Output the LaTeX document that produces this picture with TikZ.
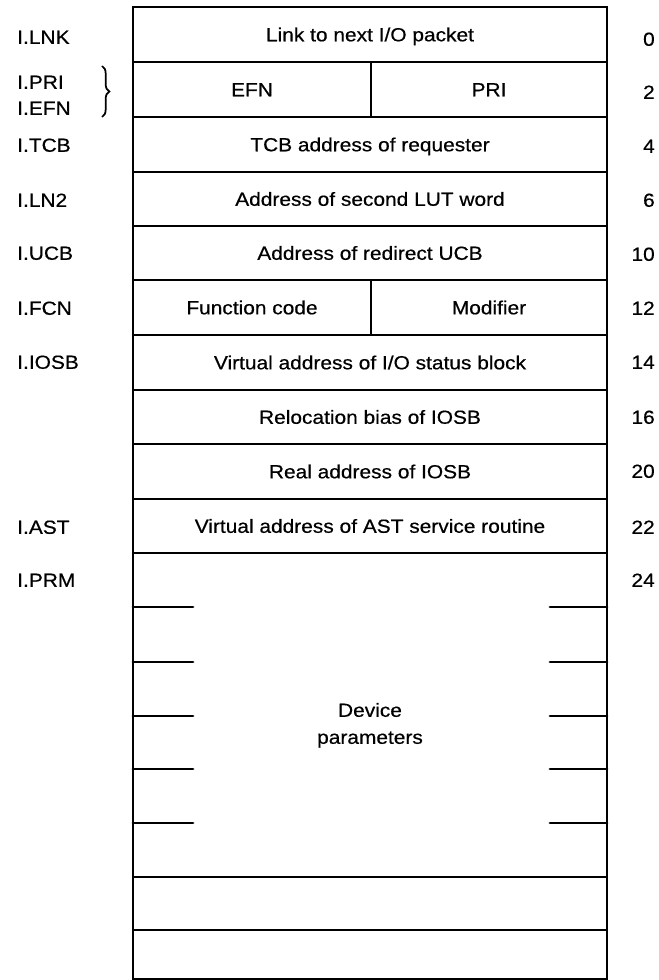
\documentclass[tikz,border=0pt]{standalone}
\usepackage{fontspec}
\setmainfont{Liberation Sans}[FakeStretch=1.1,FakeBold=0.5]
\usetikzlibrary{decorations.pathreplacing}
\begin{document}
\begin{tikzpicture}[x=0.75pt,y=-0.75pt,
  frame/.style={line width=2.1pt},
  tick/.style={line width=2.1pt,line cap=round},
  txt/.style={font=\fontsize{14.25pt}{18pt}\selectfont,inner sep=0pt,text height=10.2pt,text depth=0pt,anchor=center},
  lab/.style={txt,anchor=west},
  off/.style={txt,anchor=east}]
\useasboundingbox (0,0) rectangle (659,980);
% outer frame
\draw[frame] (133,7) rectangle (607,979);
\foreach \y in {62,117,172,226,280,335,390,444,499,553,877,930}
  \draw[frame] (133,\y) -- (607,\y);
\draw[frame] (371,62) -- (371,117);
\draw[frame] (371,280) -- (371,335);
\foreach \y in {607,662,716,769,823}{
  \draw[tick] (133,\y) -- (193,\y);
  \draw[tick] (550,\y) -- (607,\y);}
% field texts
\node[txt] (r0) at (370,34.5) {Link to next I/O packet};
\node[txt] (r1a) at (252,89.5) {EFN};
\node[txt] (r1b) at (489,89.5) {PRI};
\node[txt] (r2) at (370,144.5) {TCB address of requester};
\node[txt] (r3) at (370,199) {Address of second LUT word};
\node[txt] (r4) at (370,253) {Address of redirect UCB};
\node[txt] (r5a) at (252,307.5) {Function code};
\node[txt] (r5b) at (489,307.5) {Modifier};
\node[txt] (r6) at (370,362.5) {Virtual address of I/O status block};
\node[txt] (r7) at (370,417) {Relocation bias of IOSB};
\node[txt] (r8) at (370,471.5) {Real address of IOSB};
\node[txt] (r9) at (370,526) {Virtual address of AST service routine};
\node[txt] (dev1) at (370,710) {Device};
\node[txt] (dev2) at (370,737) {parameters};
% symbolic names
\node[lab] (lLNK) at (17,37) {I.LNK};
\node[lab] (lPRI) at (17,82) {I.PRI};
\node[lab] (lEFN) at (17,108) {I.EFN};
\node[lab] (lTCB) at (17,145) {I.TCB};
\node[lab] (lLN2) at (17,200) {I.LN2};
\node[lab] (lUCB) at (17,253) {I.UCB};
\node[lab] (lFCN) at (17,308) {I.FCN};
\node[lab] (lIOSB) at (17,362) {I.IOSB};
\node[lab] (lAST) at (17,527) {I.AST};
\node[lab] (lPRM) at (17,580) {I.PRM};
% brace
\coordinate (bt) at (102,66);
\coordinate (bb) at (102,117);
\draw[line width=1.3pt,decorate,decoration={brace,amplitude=5.5pt}] (bt) -- (bb);
% offsets
\node[off] (o0) at (655,39) {0};
\node[off] (o2) at (655,92) {2};
\node[off] (o4) at (655,146) {4};
\node[off] (o6) at (655,200) {6};
\node[off] (o10) at (655,254) {10};
\node[off] (o12) at (655,308) {12};
\node[off] (o14) at (655,362) {14};
\node[off] (o16) at (655,417) {16};
\node[off] (o20) at (655,471) {20};
\node[off] (o22) at (655,527) {22};
\node[off] (o24) at (655,580) {24};
\end{tikzpicture}
\end{document}
